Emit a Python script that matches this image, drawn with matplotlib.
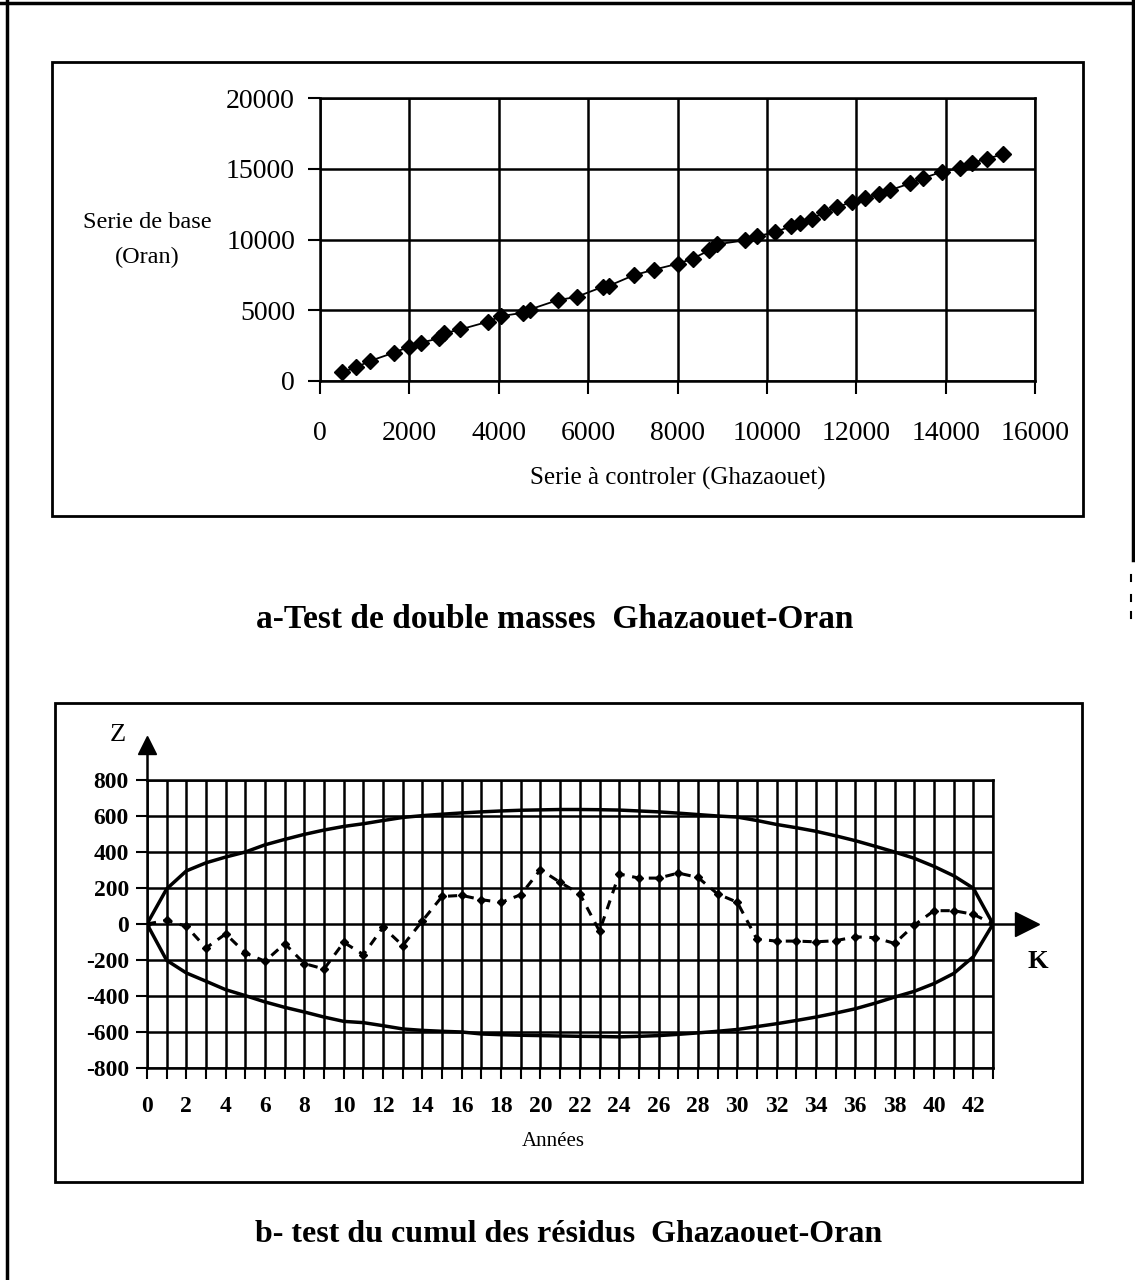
import matplotlib.pyplot as plt
from matplotlib.patches import Rectangle
from matplotlib.lines import Line2D
from matplotlib.ticker import MultipleLocator, FuncFormatter

plt.rcParams['font.family'] = ['Liberation Serif', 'DejaVu Serif']
plt.rcParams['axes.unicode_minus'] = False

# double masses: cumulated totals, Ghazaouet (x) against Oran (y)
cum_ghazaouet = [493, 804, 1115, 1650, 1993, 2250, 2658, 2765, 3140, 3751,
                 4051, 4533, 4694, 5315, 5744, 6323, 6462, 7019, 7480, 8016,
                 8338, 8713, 8874, 9516, 9784, 10191, 10534, 10749, 11017, 11284,
                 11574, 11900, 12190, 12510, 12760, 13200, 13490, 13930, 14330, 14590,
                 14925, 15290]
cum_oran = [611, 964, 1410, 1998, 2420, 2703, 3008, 3361, 3643, 4183,
            4583, 4818, 5053, 5711, 5946, 6651, 6721, 7473, 7873, 8296,
            8649, 9236, 9659, 9941, 10223, 10529, 10928, 11163, 11469, 11939,
            12291, 12650, 12930, 13210, 13490, 13960, 14330, 14800, 15040, 15400,
            15720, 16020]

# cumulated residuals and confidence ellipse
years = list(range(44))
residus = [0, 20, -13, -133, -55, -161, -207, -109, -220, -250,
           -102, -170, -18, -120, 18, 153, 159, 135, 120, 163,
           302, 231, 167, -40, 278, 255, 255, 283, 259, 167,
           121, -84, -95, -95, -99, -93, -71, -76, -108, -6,
           74, 74, 54, 0]
ellipse_haut = [0, 195, 295, 340, 372, 400, 440, 470, 498, 522,
                542, 557, 575, 592, 602, 610, 617, 623, 628, 632,
                634, 636, 636, 635, 633, 628, 623, 616, 608, 600,
                594, 575, 553, 535, 515, 490, 463, 432, 400, 365,
                320, 268, 199, 0]
ellipse_bas = [0, -202, -272, -318, -365, -398, -433, -463, -489, -517,
               -541, -548, -565, -583, -591, -596, -600, -611, -615, -618,
               -620, -622, -624, -625, -627, -624, -620, -613, -605, -596,
               -586, -570, -554, -536, -517, -495, -471, -440, -406, -374,
               -331, -275, -182, 0]

W, H = 1135, 1280
fig = plt.figure(figsize=(W / 100, H / 100), dpi=100)


def fx(px):
    return px / W


def fy(py):
    return 1 - py / H


def fline(xs, ys, **kw):
    fig.add_artist(Line2D([fx(v) for v in xs], [fy(v) for v in ys],
                          transform=fig.transFigure, color='k', **kw))


# page frame
fline([7, 7], [0, H], lw=2.5)
fline([0, W], [3, 3], lw=2.5)
fline([1133, 1133], [0, 560], lw=2.5)
for y0 in (575, 595, 612):
    fline([1131, 1131], [y0, y0 + 6], lw=1.5)

# chart boxes
for x0, y0, x1, y1 in [(52, 62, 1083, 516), (55, 703, 1082, 1182)]:
    fig.add_artist(Rectangle((fx(x0), fy(y1)), (x1 - x0) / W, (y1 - y0) / H,
                             transform=fig.transFigure, fill=False, lw=2, ec='k'))

# ---- a: double masses ----
ax1 = fig.add_axes([fx(320), fy(381), (1035 - 320) / W, (381 - 98) / H])
ax1.plot(cum_ghazaouet, cum_oran, color='k', lw=1.3, marker='D', ms=8,
         mfc='k', mec='k', clip_on=False, zorder=3)
ax1.set_xlim(0, 16000)
ax1.set_ylim(0, 20000)
ax1.xaxis.set_major_locator(MultipleLocator(2000))
ax1.yaxis.set_major_locator(MultipleLocator(5000))
ax1.grid(color='k', lw=1.8)
for s in ax1.spines.values():
    s.set_linewidth(1.8)
ax1.tick_params(axis='both', direction='out', length=9, width=1.5,
                labelsize=20)
ax1.tick_params(axis='x', pad=20)
ax1.tick_params(axis='y', pad=9)

fig.text(fx(147), fy(222), 'Serie de base', ha='center', va='center', fontsize=17.5)
fig.text(fx(147), fy(257), '(Oran)', ha='center', va='center', fontsize=17.5)
fig.text(fx(678), fy(478), 'Serie à controler (Ghazaouet)', ha='center',
         va='center', fontsize=18)
fig.text(fx(555), fy(620), 'a-Test de double masses  Ghazaouet-Oran',
         ha='center', va='center', fontsize=24, fontweight='bold')

# ---- b: cumulated residuals ----
ax2 = fig.add_axes([fx(147), fy(1068), (993 - 147) / W, (1068 - 780) / H])
ax2.plot(years, ellipse_haut, color='k', lw=2.5)
ax2.plot(years, ellipse_bas, color='k', lw=2.5)
ax2.plot(years, residus, color='k', lw=2.2, ls=(0, (3, 2.5)), marker='D', ms=4)
ax2.set_xlim(0, 43)
ax2.set_ylim(-800, 800)
ax2.xaxis.set_major_locator(MultipleLocator(1))
ax2.yaxis.set_major_locator(MultipleLocator(200))
ax2.xaxis.set_major_formatter(FuncFormatter(lambda v, p: '%d' % v if int(v) % 2 == 0 else ''))
ax2.yaxis.set_major_formatter(FuncFormatter(lambda v, p: '%d' % v))
ax2.grid(color='k', lw=1.8)
for s in ax2.spines.values():
    s.set_linewidth(1.8)
ax2.tick_params(axis='both', direction='out', length=8, width=1.5, labelsize=17)
ax2.tick_params(axis='x', pad=12)
ax2.tick_params(axis='y', pad=5)
for lab in ax2.get_xticklabels() + ax2.get_yticklabels():
    lab.set_fontweight('bold')

# axis arrows
ax2.plot([0, 0], [800, 950], color='k', lw=1.8, clip_on=False)
ax2.plot(0, 995, marker='^', ms=13, color='k', clip_on=False)
ax2.plot([43, 44.4], [0, 0], color='k', lw=1.8, clip_on=False)
ax2.plot(44.75, 0, marker='>', ms=17, color='k', clip_on=False)

fig.text(fx(118), fy(735), 'Z', ha='center', va='center', fontsize=19)
fig.text(fx(1038), fy(962), 'K', ha='center', va='center', fontsize=19,
         fontweight='bold')
fig.text(fx(553), fy(1142), 'Années', ha='center', va='center', fontsize=15)
fig.text(fx(569), fy(1235), 'b- test du cumul des résidus  Ghazaouet-Oran',
         ha='center', va='center', fontsize=23, fontweight='bold')

fig.savefig('out.png', dpi=100)
